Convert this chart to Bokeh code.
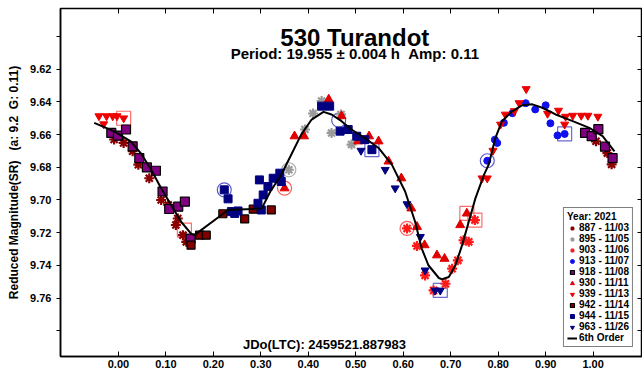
from bokeh.plotting import figure
from bokeh.models import (Range1d, LinearAxis, FixedTicker, Legend, LegendItem,
                          Label, PrintfTickFormatter)
from bokeh.embed import file_html
from bokeh.resources import INLINE

# ---- data (phase, reduced magnitude) ----
phase_887 = [-0.009, 0.011, 0.030, 0.042, 0.065, 0.090, 0.105, 0.121, 0.125, 0.136, 0.143, 1.006, 1.030, 1.039]
mag_887 = [9.6630, 9.6651, 9.6702, 9.6784, 9.6867, 9.7000, 9.7030, 9.7153, 9.7113, 9.7215, 9.7256, 9.6641, 9.6713, 9.6782]

phase_895 = [0.359, 0.393, 0.410, 0.428, 0.449, 0.469, 0.491]
mag_895 = [9.6815, 9.6569, 9.6471, 9.6395, 9.6590, 9.6477, 9.6661]

phase_903 = [0.608, 0.629, 0.646, 0.664, 0.689, 0.703, 0.715, 0.727, 0.738, 0.751]
mag_903 = [9.7174, 9.7281, 9.7461, 9.7553, 9.7512, 9.7420, 9.7369, 9.7246, 9.7256, 9.7123]

phase_913 = [0.777, 0.793, 0.798, 0.812, 0.830, 0.858, 0.878, 0.900, 0.910, 0.925, 0.940]
mag_913 = [9.6760, 9.6631, 9.6651, 9.6528, 9.6469, 9.6408, 9.6446, 9.6421, 9.6531, 9.6605, 9.6596]

phase_918 = [-0.015, -0.001, 0.016, 0.030, 0.044, 0.060, 0.079, 0.093, 0.107, 0.126, 0.140, 0.152,
             0.983, 0.997, 1.011, 1.025, 1.041]
mag_918 = [9.6590, 9.6606, 9.6569, 9.6672, 9.6744, 9.6801, 9.6821, 9.6948, 9.7055, 9.7041, 9.7010, 9.7236,
           9.6590, 9.6610, 9.6567, 9.6674, 9.6744]

phase_930 = [0.350, 0.371, 0.391, 0.443, 0.470, 0.505, 0.528, 0.548, 0.569, 0.596, 0.617, 0.629, 0.645,
             0.671, 0.687, 0.720, 0.734]
mag_930 = [9.6928, 9.6610, 9.6610, 9.6385, 9.6487, 9.6641, 9.6610, 9.6641, 9.6764, 9.6867, 9.7051, 9.7164,
           9.7276, 9.7338, 9.7359, 9.7153, 9.7082]

phase_939 = [-0.041, -0.031, -0.025, -0.012, -0.003, 0.011, 0.766, 0.777, 0.789, 0.805, 0.815, 0.834, 0.844,
             0.859, 0.904, 0.927, 0.940, 0.942, 0.957, 0.975, 0.989, 1.010]
mag_939 = [9.6487, 9.6536, 9.6487, 9.6487, 9.6487, 9.6500, 9.6867, 9.6867, 9.6698, 9.6538, 9.6477, 9.6456, 9.6407,
           9.6321, 9.6472, 9.6453, 9.6538, 9.6490, 9.6484, 9.6484, 9.6484, 9.6490]

phase_942 = [0.153, 0.171, 0.185, 0.220, 0.266, 0.284, 0.322]
mag_942 = [9.7276, 9.7215, 9.7215, 9.7084, 9.7116, 9.7056, 9.7061]

phase_944 = [0.223, 0.231, 0.238, 0.245, 0.252, 0.294, 0.297, 0.301, 0.305, 0.315, 0.326, 0.340, 0.343,
             0.428, 0.445, 0.467, 0.484, 0.502, 0.519, 0.534]
mag_944 = [9.6938, 9.6993, 9.7071, 9.7082, 9.7067, 9.7020, 9.6877, 9.7061, 9.6969, 9.6918, 9.6867, 9.6836, 9.6887,
           9.6426, 9.6426, 9.6579, 9.6569, 9.6610, 9.6631, 9.6692]

phase_963 = [0.511, 0.562, 0.583, 0.608, 0.636, 0.646, 0.667, 0.678]
mag_963 = [9.6698, 9.6815, 9.6928, 9.7025, 9.7225, 9.7430, 9.7553, 9.7553]

# 6th-order fit curve
fit_phase = [-0.051, -0.009, 0.026, 0.047, 0.069, 0.090, 0.111, 0.132, 0.153, 0.160, 0.217, 0.231, 0.281,
             0.302, 0.320, 0.343, 0.364, 0.385, 0.407, 0.432, 0.449, 0.470, 0.491, 0.519, 0.548, 0.576,
             0.604, 0.625, 0.639, 0.653, 0.675, 0.682, 0.696, 0.710, 0.724, 0.738, 0.752, 0.770, 0.780,
             0.794, 0.808, 0.830, 0.851, 0.872, 0.893, 0.921, 0.957, 0.992, 1.020, 1.045]
fit_mag = [9.6528, 9.6580, 9.6641, 9.6713, 9.6815, 9.6928, 9.7030, 9.7133, 9.7205, 9.7215, 9.7092, 9.7061, 9.7055,
           9.7051, 9.6948, 9.6846, 9.6723, 9.6600, 9.6508, 9.6461, 9.6477, 9.6518, 9.6569, 9.6621, 9.6682, 9.6784,
           9.6948, 9.7133, 9.7297, 9.7399, 9.7477, 9.7485, 9.7471, 9.7399, 9.7276, 9.7133, 9.6990, 9.6846, 9.6784,
           9.6621, 9.6518, 9.6456, 9.6420, 9.6415, 9.6436, 9.6477, 9.6518, 9.6559, 9.6610, 9.6702]

# flagged points (open rings / boxes)
ring_red_phase = [0.350, 0.608]
ring_red_mag = [9.6928, 9.7174]
ring_blue_phase = [0.223, 0.464, 0.777]
ring_blue_mag = [9.6938, 9.6512, 9.6760]
ring_gray_phase = [0.359]
ring_gray_mag = [9.6815]
box_red_phase = [0.011, 0.139, 0.734, 0.751]
box_red_mag = [9.6500, 9.7184, 9.7082, 9.7123]
box_blue_phase = [0.534, 0.678, 0.940]
box_blue_mag = [9.6692, 9.7553, 9.6596]

x_ticks = [0.0, 0.1, 0.2, 0.3, 0.4, 0.5, 0.6, 0.7, 0.8, 0.9, 1.0]
y_ticks = [9.62, 9.64, 9.66, 9.68, 9.70, 9.72, 9.74, 9.76]
y_minor = [9.60, 9.78]
y_all = [9.60, 9.62, 9.64, 9.66, 9.68, 9.70, 9.72, 9.74, 9.76, 9.78]

FONT = "Liberation Sans"
NB = "\u00a0"

p = figure(width=642, height=370, output_backend="svg", toolbar_location=None,
           x_range=Range1d(-0.122, 1.104), y_range=Range1d(9.7957, 9.5829),
           x_axis_location=None, y_axis_location=None,
           min_border_left=60, min_border_right=0, min_border_top=8, min_border_bottom=0)
p.grid.visible = False
p.outline_line_color = "black"
p.outline_line_width = 1.5
p.background_fill_color = "white"
p.border_fill_color = "white"

# axes
bottom = LinearAxis(ticker=FixedTicker(ticks=x_ticks), formatter=PrintfTickFormatter(format="%.2f"))
bottom.major_tick_in = 5
bottom.major_tick_out = 0
bottom.minor_tick_line_color = None
bottom.major_label_standoff = 3
bottom.major_label_text_font = FONT
bottom.major_label_text_font_style = "bold"
bottom.major_label_text_font_size = "11px"
bottom.major_label_text_color = "black"
bottom.axis_line_color = "black"
bottom.axis_line_width = 1.5
p.add_layout(bottom, "below")

left = LinearAxis(ticker=FixedTicker(ticks=y_ticks, minor_ticks=y_minor),
                  formatter=PrintfTickFormatter(format="%.2f"))
left.major_tick_in = 0
left.major_tick_out = 4
left.minor_tick_in = 0
left.minor_tick_out = 4
left.major_label_standoff = 5
left.major_label_text_font = FONT
left.major_label_text_font_style = "bold"
left.major_label_text_font_size = "11px"
left.major_label_text_color = "black"
left.axis_label = "Reduced Magnitude(SR)" + NB * 3 + "(a: 9.2" + NB * 2 + "G: 0.11)"
left.axis_label_text_font = FONT
left.axis_label_text_font_style = "bold"
left.axis_label_text_font_size = "12px"
left.axis_label_text_color = "black"
left.axis_label_standoff = 6
left.axis_line_color = "black"
left.axis_line_width = 1.5
p.add_layout(left, "left")

top = LinearAxis(ticker=FixedTicker(ticks=x_ticks))
top.major_tick_in = 5
top.major_tick_out = 0
top.minor_tick_line_color = None
top.major_label_text_font_size = "1px"
top.major_label_text_color = None
top.major_label_standoff = 0
top.axis_line_color = "black"
p.add_layout(top, "above")

right = LinearAxis(ticker=FixedTicker(ticks=y_all))
right.major_tick_in = 5
right.major_tick_out = 0
right.minor_tick_line_color = None
right.major_label_text_font_size = "1px"
right.major_label_text_color = None
right.major_label_standoff = 0
right.axis_line_color = "black"
p.add_layout(right, "right")

# flagged rings/boxes
p.scatter(ring_red_phase, ring_red_mag, marker="circle", size=14, fill_alpha=0,
          line_color="#ff5a5a", line_width=1.2)
p.scatter(ring_blue_phase, ring_blue_mag, marker="circle", size=14, fill_alpha=0,
          line_color="#5a5acd", line_width=1.2)
p.scatter(ring_gray_phase, ring_gray_mag, marker="circle", size=14, fill_alpha=0,
          line_color="#b0b0b0", line_width=1.2)
p.scatter(box_red_phase, box_red_mag, marker="square", size=14, fill_alpha=0,
          line_color="#ff6b6b", line_width=1.2)
p.scatter(box_blue_phase, box_blue_mag, marker="square", size=14, fill_alpha=0,
          line_color="#6a6ad0", line_width=1.2)

# series
r887 = p.scatter(phase_887, mag_887, marker="asterisk", size=10, line_color="#8b0000", line_width=2.2)
r895 = p.scatter(phase_895, mag_895, marker="asterisk", size=10, line_color="#9a9a9a", line_width=2.2)
r903 = p.scatter(phase_903, mag_903, marker="asterisk", size=10, line_color="#ff1a1a", line_width=2.2)
r913 = p.scatter(phase_913, mag_913, marker="circle", size=7, fill_color="#1010ee", line_color="#1010ee")
r918 = p.scatter(phase_918, mag_918, marker="square", size=9, fill_color="#800080", line_color="black", line_width=1.2)
r930 = p.scatter(phase_930, mag_930, marker="triangle", size=9, fill_color="#e00000", line_color="#e00000")
r939 = p.scatter(phase_939, mag_939, marker="inverted_triangle", size=8, fill_color="#ee0000", line_color="#ee0000")
r942 = p.scatter(phase_942, mag_942, marker="square", size=8, fill_color="#800000", line_color="black", line_width=1.2)
r944 = p.scatter(phase_944, mag_944, marker="square", size=8, fill_color="#000080", line_color="#000080")
r963 = p.scatter(phase_963, mag_963, marker="inverted_triangle", size=8, fill_color="#000080", line_color="#000080")
rfit = p.line(fit_phase, fit_mag, line_color="black", line_width=2)

# texts
p.add_layout(Label(x=0.498, y=9.6007, text="530 Turandot", text_align="center", text_baseline="alphabetic",
                   text_font=FONT, text_font_style="bold", text_font_size="24px", text_color="black"))
p.add_layout(Label(x=0.498, y=9.6106, text="Period: 19.955 \u00b1 0.004 h" + NB * 2 + "Amp: 0.11",
                   text_align="center", text_baseline="alphabetic", text_font=FONT,
                   text_font_style="bold", text_font_size="15px", text_color="black"))
p.add_layout(Label(x=0.434, y=9.7883, text="JDo(LTC): 2459521.887983", text_align="center",
                   text_baseline="alphabetic", text_font=FONT, text_font_style="bold", text_font_size="13px",
                   text_color="black"))

legend = Legend(items=[
    LegendItem(label="887 - 11/03", renderers=[r887]),
    LegendItem(label="895 - 11/05", renderers=[r895]),
    LegendItem(label="903 - 11/06", renderers=[r903]),
    LegendItem(label="913 - 11/07", renderers=[r913]),
    LegendItem(label="918 - 11/08", renderers=[r918]),
    LegendItem(label="930 - 11/11", renderers=[r930]),
    LegendItem(label="939 - 11/13", renderers=[r939]),
    LegendItem(label="942 - 11/14", renderers=[r942]),
    LegendItem(label="944 - 11/15", renderers=[r944]),
    LegendItem(label="963 - 11/26", renderers=[r963]),
    LegendItem(label="6th Order", renderers=[rfit]),
], location="bottom_right", title="Year: 2021")
legend.title_text_font = FONT
legend.title_text_font_style = "bold"
legend.title_text_font_size = "10px"
legend.title_text_color = "black"
legend.title_standoff = 0
legend.label_text_font = FONT
legend.label_text_font_style = "bold"
legend.label_text_font_size = "10px"
legend.label_text_color = "black"
legend.label_height = 10
legend.glyph_height = 10
legend.glyph_width = 10
legend.label_standoff = 2
legend.spacing = 0
legend.padding = 3
legend.margin = 9
legend.border_line_color = "black"
legend.border_line_width = 1.5
legend.background_fill_alpha = 1
p.add_layout(legend, "center")

open("out.html", "w").write(file_html(p, INLINE))
